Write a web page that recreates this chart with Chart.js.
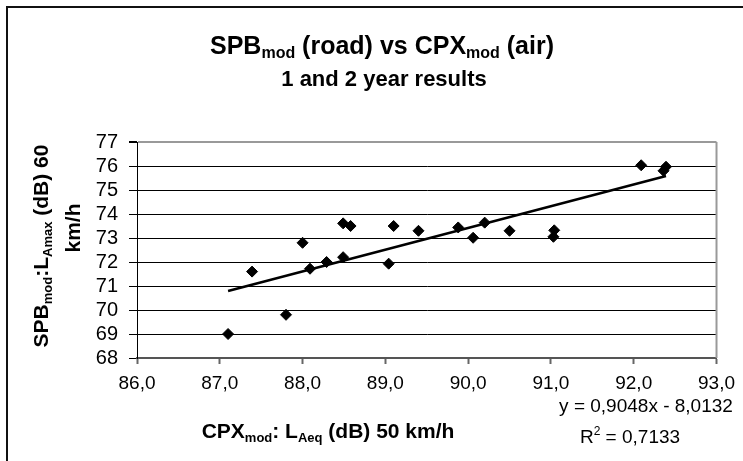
<!DOCTYPE html>
<html>
<head>
<meta charset="utf-8">
<script src="https://cdn.jsdelivr.net/npm/chart.js@4.4.0/dist/chart.umd.min.js"></script>
<style>
  html, body { margin: 0; padding: 0; background: #fff; }
</style>
</head>
<body>
<canvas id="spbChart" width="743" height="461"></canvas>
<script>
// CPXmod (air) against SPBmod (road), 1 and 2 year results
var cpxLevels = [87.10, 87.39, 87.80, 88.00, 88.09, 88.29, 88.49, 88.49, 88.58, 89.04, 89.10,
                 89.40, 89.88, 90.06, 90.20, 90.50, 91.04, 91.03, 92.09, 92.39, 92.36];
var spbLevels = [69.00, 71.60, 69.80, 72.80, 71.72, 72.00, 72.20, 73.61, 73.50, 71.93, 73.50,
                 73.30, 73.44, 73.01, 73.64, 73.30, 73.32, 73.05, 76.03, 75.97, 75.80];

// linear trend as printed on the chart
var trendSlope = 0.9048;
var trendIntercept = -8.0132;
var trendR2 = 0.7133;

var xRange = [86, 93];
var yRange = [68, 77];

var FONT = "'Liberation Sans', Arial, sans-serif";

function comma(v, digits) {
    return v.toFixed(digits).replace('.', ',');
}

var points = cpxLevels.map(function (x, i) { return { x: x, y: spbLevels[i] }; });

var xMin = Math.min.apply(null, cpxLevels);
var xMax = Math.max.apply(null, cpxLevels);
var trendPoints = [
    { x: xMin, y: trendSlope * xMin + trendIntercept },
    { x: xMax, y: trendSlope * xMax + trendIntercept }
];

// text made of runs so subscripts / superscripts can be drawn
function runFont(r) {
    return (r.bold ? 'bold ' : '') + r.size + 'px ' + FONT;
}
function drawRuns(ctx, runs, cx, baseline) {
    var total = 0;
    runs.forEach(function (r) {
        ctx.font = runFont(r);
        r.w = ctx.measureText(r.text).width;
        total += r.w;
    });
    var x = cx - total / 2;
    runs.forEach(function (r) {
        ctx.font = runFont(r);
        ctx.fillText(r.text, x, baseline + (r.dy || 0));
        x += r.w;
    });
}

var textPlugin = {
    id: 'labels',
    beforeDraw: function (chart) {
        var ctx = chart.ctx;
        ctx.save();
        ctx.fillStyle = '#fff';
        ctx.fillRect(0, 0, chart.width, chart.height);
        // outer frame
        ctx.fillStyle = '#111';
        ctx.fillRect(6, 6, chart.width, 2);
        ctx.fillRect(6, 6, 2, chart.height);
        ctx.restore();
    },
    afterDraw: function (chart) {
        var ctx = chart.ctx;
        var area = chart.chartArea;
        ctx.save();

        // plot frame on the right
        ctx.strokeStyle = '#999';
        ctx.lineWidth = 2;
        ctx.beginPath();
        ctx.moveTo(area.right, area.top);
        ctx.lineTo(area.right, area.bottom);
        ctx.stroke();

        ctx.fillStyle = '#000';
        ctx.textAlign = 'left';
        ctx.textBaseline = 'alphabetic';

        // title
        drawRuns(ctx, [
            { text: 'SPB', size: 25, bold: true },
            { text: 'mod', size: 16, bold: true, dy: 4 },
            { text: ' (road) vs CPX', size: 25, bold: true },
            { text: 'mod', size: 16, bold: true, dy: 4 },
            { text: ' (air)', size: 25, bold: true }
        ], 382, 54);
        drawRuns(ctx, [{ text: '1 and 2 year results', size: 22, bold: true }], 384, 86);

        // x axis title
        drawRuns(ctx, [
            { text: 'CPX', size: 21, bold: true },
            { text: 'mod', size: 13, bold: true, dy: 4 },
            { text: ': L', size: 21, bold: true },
            { text: 'Aeq', size: 13, bold: true, dy: 4 },
            { text: ' (dB) 50 km/h', size: 21, bold: true }
        ], 328, 438);

        // y axis title, two lines
        ctx.translate(48, 246);
        ctx.rotate(-Math.PI / 2);
        drawRuns(ctx, [
            { text: 'SPB', size: 21, bold: true },
            { text: 'mod', size: 13, bold: true, dy: 4 },
            { text: ':L', size: 21, bold: true },
            { text: 'Amax', size: 13, bold: true, dy: 4 },
            { text: ' (dB) 60', size: 21, bold: true }
        ], 0, 0);
        drawRuns(ctx, [{ text: 'km/h', size: 21, bold: true }], 18, 32);
        ctx.setTransform(1, 0, 0, 1, 0, 0);

        // regression equation
        var sign = trendIntercept < 0 ? ' - ' : ' + ';
        drawRuns(ctx, [{ text: 'y = ' + comma(trendSlope, 4) + 'x' + sign + comma(Math.abs(trendIntercept), 4), size: 19 }], 646, 412);
        drawRuns(ctx, [
            { text: 'R', size: 19 },
            { text: '2', size: 12, dy: -8 },
            { text: ' = ' + comma(trendR2, 4), size: 19 }
        ], 630, 443);

        ctx.restore();
    }
};

new Chart(document.getElementById('spbChart'), {
    type: 'scatter',
    data: {
        datasets: [{
            label: 'Measurements',
            data: points,
            pointStyle: 'rectRot',
            pointRadius: 5.5,
            pointBorderWidth: 1,
            backgroundColor: '#000',
            borderColor: '#000',
            order: 1
        }, {
            label: 'Trend',
            type: 'line',
            data: trendPoints,
            showLine: true,
            pointRadius: 0,
            borderColor: '#000',
            borderWidth: 2.5,
            fill: false,
            order: 2
        }]
    },
    plugins: [textPlugin],
    options: {
        responsive: false,
        animation: false,
        layout: { padding: { top: 142, right: 25, left: 0, bottom: 0 } },
        plugins: {
            legend: { display: false },
            title: { display: false },
            tooltip: { enabled: false }
        },
        scales: {
            x: {
                type: 'linear',
                min: xRange[0],
                max: xRange[1],
                afterFit: function (scale) { scale.height = 103; },
                ticks: {
                    stepSize: 1,
                    autoSkip: false,
                    maxRotation: 0,
                    color: '#000',
                    padding: 8,
                    font: { family: FONT, size: 19 },
                    callback: function (v) { return comma(v, 1); }
                },
                grid: {
                    drawOnChartArea: false,
                    drawTicks: true,
                    tickLength: 6,
                    tickColor: '#666',
                    tickWidth: 2
                },
                border: { color: '#555', width: 2 }
            },
            y: {
                type: 'linear',
                min: yRange[0],
                max: yRange[1],
                afterFit: function (scale) { scale.width = 137; },
                ticks: {
                    stepSize: 1,
                    autoSkip: false,
                    color: '#000',
                    padding: 11,
                    font: { family: FONT, size: 20 }
                },
                grid: {
                    color: function (c) { return c.tick && c.tick.value === yRange[1] ? '#999' : '#000'; },
                    lineWidth: function (c) { return c.tick && c.tick.value === yRange[1] ? 2 : 1; },
                    tickColor: '#000',
                    tickLength: 8
                },
                border: { color: '#000', width: 1 }
            }
        }
    }
});
</script>
</body>
</html>
